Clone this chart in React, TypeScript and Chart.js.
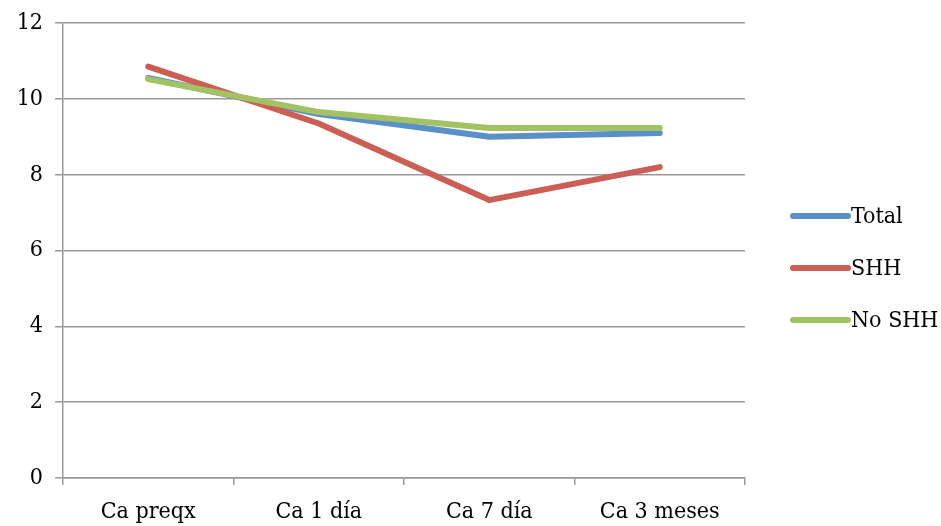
import React, { useEffect, useRef } from "react";
import { Chart, registerables } from "chart.js";

Chart.register(...registerables);

const categories = ["Ca preqx", "Ca 1 día", "Ca 7 día", "Ca 3 meses"];
const totalValues = [10.55, 9.6, 9.0, 9.1];
const shhValues = [10.85, 9.35, 7.33, 8.2];
const noShhValues = [10.52, 9.65, 9.23, 9.23];
const seriesNames = ["Total", "SHH", "No SHH"];
const seriesColors = ["#5A8FCA", "#CB5E55", "#A3C263"];

const FONT = "'DejaVu Serif Condensed', 'DejaVu Serif', serif";

const legendPlugin = {
  id: "customLegend",
  afterDraw(chart: any) {
    const ctx = chart.ctx;
    const x0 = 793;
    const x1 = 848;
    const ys = [216, 268, 320];
    ctx.save();
    seriesNames.forEach((name, i) => {
      ctx.strokeStyle = seriesColors[i];
      ctx.lineWidth = 6;
      ctx.lineCap = "round";
      ctx.beginPath();
      ctx.moveTo(x0, ys[i]);
      ctx.lineTo(x1, ys[i]);
      ctx.stroke();
      ctx.fillStyle = "#000";
      ctx.font = `23px ${FONT}`;
      ctx.textBaseline = "middle";
      ctx.textAlign = "left";
      ctx.fillText(name, x1 + 3, ys[i] + 1);
    });
    ctx.restore();
  },
};

export default function App() {
  const ref = useRef<HTMLCanvasElement>(null);
  useEffect(() => {
    document.body.style.margin = "0";
    const data = [totalValues, shhValues, noShhValues];
    const chart = new Chart(ref.current!, {
      type: "line",
      data: {
        labels: categories,
        datasets: seriesNames.map((n, i) => ({
          label: n,
          data: data[i],
          borderColor: seriesColors[i],
          backgroundColor: seriesColors[i],
          borderWidth: 6,
          pointRadius: 0,
          tension: 0,
          borderCapStyle: "round" as const,
          borderJoinStyle: "round" as const,
          order: 3 - i,
        })),
      },
      options: {
        animation: false,
        responsive: false,
        maintainAspectRatio: false,
        layout: { padding: { top: 23, right: 196, left: 0, bottom: 0 } },
        plugins: { legend: { display: false }, tooltip: { enabled: false } },
        scales: {
          x: {
            offset: true,
            grid: {
              offset: true,
              drawOnChartArea: false,
              drawTicks: true,
              tickLength: 7,
              color: "#999",
              lineWidth: 1.5,
            },
            border: { display: true, color: "#999", width: 1.5 },
            ticks: {
              color: "#000",
              font: { family: FONT, size: 23 },
              padding: 13,
              maxRotation: 0,
            },
            afterFit(scale: any) {
              scale.height = 48;
              scale.paddingLeft = 0;
              scale.paddingRight = 0;
            },
          },
          y: {
            min: 0,
            max: 12,
            ticks: {
              stepSize: 2,
              color: "#000",
              font: { family: FONT, size: 23 },
              padding: 12,
            },
            grid: {
              color: "#999",
              lineWidth: 1.5,
              drawTicks: true,
              tickLength: 8,
            },
            border: { display: true, color: "#999", width: 1.5 },
            afterFit(scale: any) {
              scale.width = 63;
              scale.paddingTop = 0;
              scale.paddingBottom = 0;
            },
          },
        },
      },
      plugins: [legendPlugin],
    });
    return () => chart.destroy();
  }, []);
  return (
    <div style={{ width: 941, height: 526 }}>
      <canvas ref={ref} width={941} height={526} style={{ display: "block" }} />
    </div>
  );
}
